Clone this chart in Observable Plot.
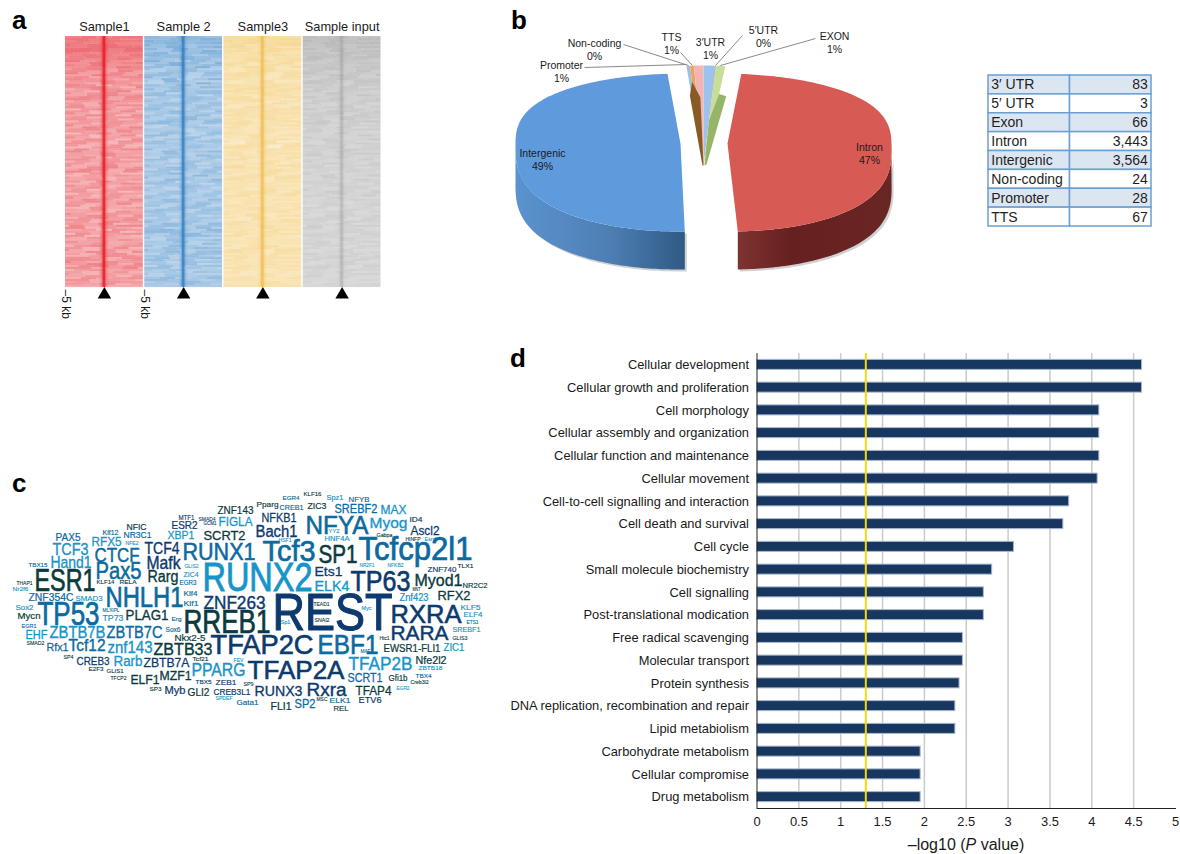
<!DOCTYPE html>
<html>
<head>
<meta charset="utf-8">
<script src="https://cdn.jsdelivr.net/npm/d3@7"></script>
<script src="https://cdn.jsdelivr.net/npm/@observablehq/plot@0.6"></script>
<style>
  html,body{margin:0;padding:0;background:#fff;}
  #page{position:relative;width:1180px;height:854px;overflow:hidden;font-family:"Liberation Sans",sans-serif;color:#1a1a1a;}
  #page>svg,#page>figure{position:absolute;margin:0;}
  .letter{position:absolute;font-weight:700;font-size:26px;line-height:1;color:#000;}
  #xtitle{position:absolute;left:866px;width:200px;top:836px;text-align:center;font-size:16px;}
</style>
</head>
<body>
<div id="page">
  <div class="letter" style="left:12px;top:7px">a</div>
  <div class="letter" style="left:511px;top:7px">b</div>
  <div class="letter" style="left:12px;top:470px">c</div>
  <div class="letter" style="left:510px;top:345px">d</div>
  <div id="xtitle">–log10 (<i>P</i> value)</div>
</div>
<script>
// ---------- panel a: estimated signal level (percent) of each 2-px row, read top to bottom ----------
const samples = ["Sample1", "Sample 2", "Sample3", "Sample input"];
const sampleHues = ["#e5323a", "#3c85c6", "#efbd4a", "#9a9a9a"];
const peakHues = ["#e81e28", "#2f7cc0", "#efb93f", "#8f8f8f"];
const peakStrength = [0.95, 0.85, 0.7, 0.3];
const peakHalfWidths = [0.55, 0.3, 0.16];
const peakLayers = [0.12, 0.35, 0.85];
const redRows = [60,66,58,64,68,62,68,70,66,60,56,62,66,52,60,54,48,58,62,46,52,58,42,50,60,54,38,48,56,44,52,60,40,50,46,56,36,52,58,44,48,54,38,50,60,42,46,52,34,48,56,44,40,54,50,36,46,58,42,48,44,54,38,50,56,40,46,60,48,36,52,44,50,38,56,46,42,52,34,48,58,44,40,50,54,36,46,42,56,48,38,52,44,50,36,58,42,48,34,54,46,40,52,44,36,50,56,42,46,38,52,54,58,48,40,54,36,46,50,42,38,52,44,48,40];
const blueRows = [58,52,62,56,64,50,58,46,54,60,44,52,64,48,42,56,50,38,46,54,60,42,48,36,52,44,56,40,48,54,34,46,52,42,38,50,56,44,36,48,52,40,46,58,42,34,50,44,38,54,48,36,46,52,40,44,56,38,48,42,34,52,46,40,54,44,36,50,42,48,58,38,46,52,34,44,50,40,36,48,54,42,38,46,50,36,44,52,40,48,34,46,56,42,38,50,54,58,48,40,52,36,46,42,50,38,54,44,36,48,42,52,38,46,34,50,44,40,48,36,46,52,38,44,42];
const yellowRows = [54,48,56,50,46,54,44,52,48,42,52,46,40,50,54,44,48,38,46,52,42,48,44,36,50,46,42,52,38,44,48,50,40,46,52,36,44,48,42,50,38,46,44,52,40,48,36,44,50,42,46,38,48,30,44,52,40,46,42,48,36,50,44,40,46,52,38,44,48,36,42,50,40,46,38,44,48,42,36,50,44,40,46,38,48,42,36,44,50,40,46,34,42,48,38,44,40,46,36,48,42,38,44,40,46,34,42,48,38,44,36,46,40,42,38,46,34,44,40,36,42,46,38,40,44];
const grayRows = [64,60,66,58,62,56,64,54,60,58,52,62,56,50,58,54,48,56,60,50,54,46,52,58,48,52,44,54,50,46,56,48,42,52,50,46,54,44,48,52,42,50,46,54,44,48,40,50,46,42,52,44,48,40,50,46,42,48,44,52,40,46,50,42,44,48,38,46,50,42,44,40,48,46,38,44,50,42,40,46,44,38,48,42,36,46,44,40,48,38,42,46,40,44,36,48,42,38,44,46,36,42,40,46,38,44,42,36,46,40,38,44,42,36,40,46,38,42,36,44,40,38,42,36,40];
const kbLabels = ["Sample1", "Sample 2"];

// ---------- panel b ----------
const regionNames = ["3′ UTR", "5′ UTR", "Exon", "Intron", "Intergenic", "Non-coding", "Promoter", "TTS"];
const regionCounts = [83, 3, 66, 3443, 3564, 24, 28, 67];
const pieLabels = ["3′UTR", "5′UTR", "EXON", "Intron", "Intergenic", "Non-coding", "Promoter", "TTS"];
const pieShares = ["1%", "0%", "1%", "47%", "49%", "0%", "1%", "1%"];

// ---------- panel c ----------
const tfNames = ["ZNF143","MTF1","SMAD4","GCM1","FIGLA","ESR2","NFIC","Klf12","NR3C1","XBP1","SCRT2","PAX5","RFX5","NFE2","TCF3","TCF4","RUNX1","CTCF","Hand1","Mafk","TBX15","GLIS2","Pax5","ZIC4","Rarg","EGR3","ESR1","KLF14","RELA","THAP1","Nr2f6","RUNX2","NHLH1","ZNF354C","SMAD3","Klf4","Klf1","ZNF263","Sox2","TP53","MLXIPL","PLAG1","TP73","Mycn","Erg","RREB1","EGR1","Sox6","EHF","ZBTB7B","ZBTB7C","Nkx2-5","ZBTB33","TFAP2C","SMAD2","Rfx1","Tcf12","znf143","SP4","CREB3","Rarb","ZBTB7A","Tcf21","FEV","E2F3","GLIS1","PPARG","TFCP2","ELF1","MZF1","TBX5","ZEB1","SP9","SP3","Myb","GLI2","CREB3L1","SPDEF","Gata1","EGR4","KLF16","Spz1","NFYB","Pparg","CREB1","ZIC3","SREBF2","MAX","NFKB1","NFYA","Myog","ID4","Bach1","Ascl2","YY2","HNF4A","Gabpa","HINFP","Esrrb","HSF1","Tcf3","SP1","Tcfcp2l1","Ets1","NR2F1","NFKB2","ZNF740","TLX1","ELK4","TP63","Myod1","NR2C2","MNT","Znf423","RFX2","KLF5","ELF4","ETS1","TEAD1","Myc","SNAI2","Sp1","REST","RXRA","RARA","SREBF1","GLIS3","Hic1","EBF1","MAF","EWSR1-FLI1","ZIC1","Nfe2l2","TFAP2B","ZBTB18","TFAP2A","SCRT1","Gfi1b","TBX4","Creb3l2","EGR2","RUNX3","Rxra","TFAP4","SP2","MSC","ELK1","ETV6","FLI1","REL"];
const tfWeights = [11,6.5,5,5,13,10.5,9,7.5,9,11.5,13,10,13,5,17,16,24,21,17,19,6,5,24,7.5,16,6.5,31,5.5,5.5,5,6,40,30,10.5,7.5,7.5,8,19,8,33,5,15,9,9.5,6,33,6,6.5,12,17,17,9,17,28,5,11.5,17,17,4.5,11.5,14,12,6,5,6,6,18,5,13,13,6,7.5,4.5,5.5,10,11,9,5,7,5.5,5.5,7,7.5,7.5,7.5,8.5,12,13,12,25,15,7.5,16,12,4.5,7,4.5,4.5,4.5,4.5,29,25,33,13,4.5,4.5,7.5,5.5,15,29,17,7.5,4.5,10,12,7.5,7.5,4.5,5,5,5,5,52,26,21,7.5,5,4.5,28,4.5,10,11,10,19,5.5,25,12,9,6,5,4.5,14,19,12.5,12,4.5,8,9,10.5,8];

// ---------- panel d ----------
const functions = ["Cellular development","Cellular growth and proliferation","Cell morphology","Cellular assembly and organization","Cellular function and maintenance","Cellular movement","Cell-to-cell signalling and interaction","Cell death and survival","Cell cycle","Small molecule biochemistry","Cell signalling","Post-translational modication","Free radical scavenging","Molecular transport","Protein synthesis","DNA replication, recombination and repair","Lipid metabiolism","Carbohydrate metabolism","Cellular compromise","Drug metabolism"];
const logP = [4.6,4.6,4.09,4.09,4.09,4.07,3.73,3.66,3.07,2.81,2.71,2.71,2.46,2.46,2.42,2.37,2.37,1.955,1.955,1.955];
const xTicks = [0,0.5,1,1.5,2,2.5,3,3.5,4,4.5,5];
const threshold = 1.3;

const page = document.getElementById("page");
function place(node, left, top) {
  node.style.left = left + "px"; node.style.top = top + "px";
  node.style.position = "absolute"; node.style.overflow = "visible";
  page.appendChild(node);
  return node;
}

// ===== a: heat maps, one facet per sample =====
const rowSets = [redRows, blueRows, yellowRows, grayRows];
// Short streaks: each row is cut into pieces whose edges step from row to row, so no vertical seam shows.
const pieceEdges = [-5, -3, -1, 1, 3, 5];
const pieceSwaps = [0, 1, 2, 3, 1];
const edgeStagger = [0, 1.1, -0.7, 0.5, -1.2, 0.8, -0.3, 1.4, -0.9, 0.2, -1.5, 0.6];
const heatRows = rowSets.flatMap((rows, s) => rows.flatMap((_, row) =>
  pieceSwaps.map((swap, k) => {
    const shift = edgeStagger[row % edgeStagger.length];
    return {
      sample: samples[s], row,
      x1: k === 0 ? -5 : pieceEdges[k] + shift,
      x2: k === pieceSwaps.length - 1 ? 5 : pieceEdges[k + 1] + shift,
      level: (rows[row ^ swap] ?? rows[row]) / 100
    };
  })));
const peakRows = samples.flatMap((sample, s) => peakHalfWidths.map((w, i) => ({sample, w, a: peakStrength[s] * peakLayers[i], hue: peakHues[s]})));
const N = redRows.length;
const heat = Plot.plot({
  width: 400, height: 335,
  marginLeft: 65, marginRight: 19.5, marginTop: 36, marginBottom: 0,
  style: {fontFamily: "Liberation Sans", fontSize: "13px", background: "transparent", color: "#1a1a1a"},
  fx: {domain: samples, paddingInner: 0.018, paddingOuter: 0, label: null, round: false},
  x: {domain: [-5, 5], axis: null},
  y: {domain: [0, N], range: [36, 287], axis: null},
  color: {domain: samples, range: sampleHues},
  opacity: {domain: [0, 1], range: [0, 1]},
  marks: [
    Plot.axisFx({anchor: "top", tickSize: 0, tickPadding: 6, label: null, fontSize: 12.8}),
    Plot.rect(heatRows, {fx: "sample", x1: "x1", x2: "x2", y1: "row", y2: d => d.row + 1.05, fill: "sample", fillOpacity: "level"}),
    ...peakRows.map(p => Plot.rect([p], {fx: "sample", x1: d => -d.w, x2: d => d.w, y1: () => 0, y2: () => N, fill: p.hue, fillOpacity: p.a})),
    Plot.dot(samples, {fx: d => d, x: () => 0, y: () => N + 3.6, symbol: "triangle", r: 5, fill: "#000", stroke: "none"}),
    Plot.text(kbLabels, {fx: d => d, x: () => -5, y: () => N + 1, text: () => "–5 kb", rotate: 90, textAnchor: "start", fontSize: 12, fill: "#1a1a1a"})
  ]
});
heat.querySelectorAll('[aria-label="rect"]').forEach(g => { g.style.filter = "blur(0.5px)"; });
place(heat, 0, 0);

// ===== b: exploded 3-D pie =====
const arcs = d3.pie().sort(null).startAngle(0).endAngle(2 * Math.PI)(regionCounts);
const RX = 166, RY_TOP = 70, RY_BOTTOM = 88, DEPTH = 38, SQUARE = 0.75;
function rim(cx, cy, t, drop = 0, ryTop = RY_TOP, ryBottom = RY_BOTTOM, skew = [0, 0]) {
  const c = Math.cos(t);
  const ry = c >= 0 ? ryTop : ryBottom;
  return {x: cx + RX * Math.sin(t) + skew[0] + skew[1] * c, y: cy - Math.sign(c) * ry * Math.pow(Math.abs(c), SQUARE) + drop};
}
function angles(a0, a1) { return [...d3.range(a0, a1, 0.02), a1]; }
function wedge(i, cx, cy, ryTop = RY_TOP, ryBottom = RY_BOTTOM, skew) {
  const a = arcs[i];
  return [{x: cx, y: cy}, ...angles(a.startAngle, a.endAngle).map(t => rim(cx, cy, t, 0, ryTop, ryBottom, skew))];
}
function wall(i, cx, cy, skew) {
  const a = arcs[i];
  const ts = angles(Math.max(a.startAngle, Math.PI / 2), Math.min(a.endAngle, 3 * Math.PI / 2));
  return [...ts.map(t => rim(cx, cy, t, 0, RY_TOP, RY_BOTTOM, skew)), ...ts.slice().reverse().map(t => rim(cx, cy, t, DEPTH, RY_TOP, RY_BOTTOM, skew))];
}
const blob = (pts, fill, extra = {}) => Plot.line(pts, {x: "x", y: "y", fill, stroke: "none", ...extra});
const lerp = (p, q, f) => ({x: p.x + (q.x - p.x) * f, y: p.y + (q.y - p.y) * f});

const INTRON = 3, INTERGENIC = 4;
const SKEW_INTRON = [-2, -6], SKEW_INTERGENIC = [1, 3];
const smallHues = {0: "#9cc2ee", 1: "#d9655c", 2: "#c6de98", 5: "#9bbfe8", 6: "#eda55a", 7: "#f2b5b3"};
const AX = 703, AY = 165, SMALL_RY = 100;
const apex = {x: AX, y: AY};
const outer = t => rim(AX, AY, t, 0, SMALL_RY, SMALL_RY);
const leftEdge = outer(arcs[6].startAngle), rightEdge = outer(arcs[2].endAngle);
const brownWall = [lerp(leftEdge, apex, 0.16), {x: leftEdge.x, y: leftEdge.y + 30}, {x: apex.x - 1, y: apex.y}, apex, lerp(apex, outer(arcs[7].startAngle + 0.03), 0.68)];
const greenWall = [lerp(rightEdge, apex, 0.28), {x: rightEdge.x + 1, y: rightEdge.y + 30}, {x: apex.x + 3, y: apex.y - 1}, {x: apex.x + 1, y: apex.y}, lerp(apex, outer(arcs[2].startAngle), 0.45)];

const leaders = [
  {x1: 584, y1: 67, x2: 686, y2: 64},
  {x1: 623, y1: 44, x2: 688, y2: 65},
  {x1: 680, y1: 52, x2: 692, y2: 65},
  {x1: 742, y1: 35, x2: 715, y2: 65},
  {x1: 815, y1: 38, x2: 720, y2: 65}
];
const labelAt = {0: [710, 48], 1: [763, 36], 2: [834, 42], 3: [869, 153], 4: [542, 159], 5: [594, 49], 6: [561, 71], 7: [671, 43]};
const pieText = pieLabels.map((name, i) => ({name, share: pieShares[i], x: labelAt[i][0], y: labelAt[i][1]}));

const pie = Plot.plot({
  width: 440, height: 300, margin: 0,
  x: {domain: [500, 940], range: [0, 440], axis: null},
  y: {domain: [0, 300], range: [0, 300], axis: null},
  style: {fontFamily: "Liberation Sans", background: "transparent"},
  marks: [
    blob(wall(INTERGENIC, 680, 143, SKEW_INTERGENIC).map(p => ({x: p.x + 2, y: p.y + 2})), "#999", {fillOpacity: 0.45}),
    blob(wall(INTRON, 727, 143, SKEW_INTRON).map(p => ({x: p.x + 2, y: p.y + 2})), "#999", {fillOpacity: 0.45}),
    blob(wall(INTERGENIC, 680, 143, SKEW_INTERGENIC), "url(#wallBlue)"),
    blob(wall(INTRON, 727, 143, SKEW_INTRON), "url(#wallRed)"),
    blob(wedge(INTERGENIC, 680, 143, RY_TOP, RY_BOTTOM, SKEW_INTERGENIC), "#5f9bdc"),
    blob(wedge(INTRON, 727, 143, RY_TOP, RY_BOTTOM, SKEW_INTRON), "#d85a54"),
    ...[0, 1, 2, 5, 6, 7].map(i => blob(wedge(i, AX, AY, SMALL_RY, SMALL_RY), smallHues[i])),
    blob(brownWall, "#8a5a24"),
    blob(greenWall, "#96b568"),
    Plot.link(leaders, {x1: "x1", y1: "y1", x2: "x2", y2: "y2", stroke: "#8a8a8a", strokeWidth: 1}),
    Plot.text(pieText, {x: "x", y: "y", text: d => d.name + "\n" + d.share, fontSize: 10.5, lineHeight: 1.2, fill: "#1a1a1a"})
  ]
});
const defs = d3.select(pie).append("defs");
function gradient(id, stops) {
  const g = defs.append("linearGradient").attr("id", id);
  stops.forEach(([o, c]) => g.append("stop").attr("offset", o).attr("stop-color", c));
}
gradient("wallBlue", [[0, "#5a93cf"], [0.55, "#4e7fb4"], [1, "#2f5a84"]]);
gradient("wallRed", [[0, "#7e3330"], [0.35, "#662020"], [1, "#6a2525"]]);
place(pie, 500, 0);

// ===== b: table =====
const tableCells = regionNames.flatMap((name, i) => [
  {row: i, col: "name", tint: i % 2 ? "#ffffff" : "#dce6f1"},
  {row: i, col: "count", tint: i % 2 ? "#ffffff" : "#dce6f1"}
]);
const tableRows = regionNames.map((name, i) => ({row: i, name, count: d3.format(",")(regionCounts[i])}));
const table = Plot.plot({
  width: 170, height: 158, margin: 0, marginLeft: 3, marginRight: 4, marginTop: 3, marginBottom: 4,
  x: {domain: ["name", "count"], padding: 0, round: false, axis: null},
  y: {domain: d3.range(8), padding: 0, round: false, axis: null},
  color: {type: "identity"},
  style: {fontFamily: "Liberation Sans", background: "transparent"},
  marks: [
    Plot.cell(tableCells, {x: "col", y: "row", fill: "tint", stroke: "#6b9fd4", strokeWidth: 1.5, inset: 0}),
    Plot.text(tableRows, {x: () => "name", y: "row", text: "name", textAnchor: "start", dx: -38, fontSize: 14, fill: "#1f1f1f"}),
    Plot.text(tableRows, {x: () => "count", y: "row", text: "count", textAnchor: "end", dx: 37, fontSize: 14, fill: "#1f1f1f"})
  ]
});
place(table, 985, 72);

// ===== c: word cloud =====
const NAVY = "#0d3a6e", GREEN = "#0b3a3e", MID = "#0b6a9f", LIGHT = "#1795c9";
const cloudLayout = {
  ZNF143:[217,253,510,GREEN],MTF1:[178,194,517,NAVY],SMAD4:[198,215,518.5,NAVY],GCM1:[203,216,523,NAVY],FIGLA:[218,252,521,LIGHT],ESR2:[171,197,525,NAVY],NFIC:[126,146,527,GREEN],Klf12:[102,118,532,MID],NR3C1:[123,151,535,MID],XBP1:[167,194,535,LIGHT],SCRT2:[203,245,535,GREEN],PAX5:[55,80,537,MID],RFX5:[91,121,541,LIGHT],NFE2:[125,138,543,LIGHT],TCF3:[52,88,549,LIGHT],TCF4:[144,179,548,NAVY],RUNX1:[182,255,552,MID],CTCF:[94,139,555,MID],Hand1:[50,91,562,LIGHT],Mafk:[146,180,562,NAVY],TBX15:[28,47,565,MID],GLIS2:[184,198,566,LIGHT],Pax5:[95,141,571,MID],ZIC4:[183,198,574,LIGHT],Rarg:[147,178,576,GREEN],EGR3:[179,196,582,MID],ESR1:[34,95,581,GREEN],KLF14:[96,114,582,GREEN],RELA:[119,136,582,GREEN],THAP1:[16,32,583,GREEN],Nr2f6:[12,28,589,LIGHT],RUNX2:[202,312,578,LIGHT],NHLH1:[105,183,597,MID],ZNF354C:[28,73,597,MID],SMAD3:[75,102,598,LIGHT],Klf4:[183,197,593,MID],Klf1:[183,198,603,MID],ZNF263:[203,265,602,NAVY],Sox2:[15,33,607,LIGHT],TP53:[37,99,614,MID],MLXIPL:[102,119,610,MID],PLAG1:[125,168,615,GREEN],TP73:[102,123,618,LIGHT],Mycn:[17,40,615,GREEN],Erg:[171,181,619,MID],RREB1:[183,270,622,GREEN],EGR1:[21,36,626,MID],Sox6:[165,180,629,MID],EHF:[25,47,635,LIGHT],ZBTB7B:[49,105,632,LIGHT],ZBTB7C:[106,162,632,MID],"Nkx2-5":[174,205,638,GREEN],ZBTB33:[153,212,649,GREEN],TFAP2C:[210,313,645,NAVY],SMAD2:[26,44,643,GREEN],Rfx1:[46,68,647,MID],Tcf12:[68,105,645,MID],znf143:[107,152,647,LIGHT],SP4:[63,73,657,GREEN],CREB3:[76,109,661,NAVY],Rarb:[113,142,661,LIGHT],ZBTB7A:[143,189,663,NAVY],Tcf21:[192,208,659,GREEN],FEV:[233,243,660,LIGHT],E2F3:[88,103,669,GREEN],GLIS1:[106,123,671,GREEN],PPARG:[191,245,670,LIGHT],TFCP2:[110,126,678,GREEN],ELF1:[130,159,679,GREEN],MZF1:[159,191,675,GREEN],TBX5:[195,211,682,NAVY],ZEB1:[215,236,682,NAVY],SP9:[243,253,684,GREEN],SP3:[149,161,689,GREEN],Myb:[164,185,690,NAVY],GLI2:[187,209,692,GREEN],CREB3L1:[213,250,692,NAVY],SPDEF:[215,232,698,LIGHT],Gata1:[236,258,702,MID],EGR4:[282,299,498,MID],KLF16:[303,321,494,GREEN],Spz1:[326,343,497,LIGHT],NFYB:[348,369,499,MID],Pparg:[256,278,504,GREEN],CREB1:[279,303,507,MID],ZIC3:[307,326,506,GREEN],SREBF2:[334,377,509,MID],MAX:[380,406,509,LIGHT],NFKB1:[261,296,518,NAVY],NFYA:[305,368,525,MID],Myog:[369,407,523,LIGHT],ID4:[409,422,519,GREEN],Bach1:[255,297,531,NAVY],Ascl2:[410,439,531,NAVY],YY2:[328,339,531,LIGHT],HNF4A:[324,349,538,LIGHT],Gabpa:[376,392,535,GREEN],HINFP:[405,420,539,GREEN],Esrrb:[424,437,539,LIGHT],HSF1:[278,291,540,LIGHT],Tcf3:[262,315,551,MID],SP1:[318,357,554,GREEN],Tcfcp2l1:[358,472,549,MID],Ets1:[314,342,571,NAVY],NR2F1:[359,374,565,LIGHT],NFKB2:[387,403,565,LIGHT],ZNF740:[427,456,569,NAVY],TLX1:[457,473,566,GREEN],ELK4:[314,349,586,LIGHT],TP63:[350,410,581,NAVY],Myod1:[414,462,580,GREEN],NR2C2:[462,487,585,GREEN],MNT:[412,420,589,GREEN],Znf423:[399,428,597,LIGHT],RFX2:[437,470,596,GREEN],KLF5:[460,480,607,LIGHT],ELF4:[463,482,614,LIGHT],ETS1:[466,478,622,MID],TEAD1:[313,329,604,GREEN],Myc:[361,371,608,LIGHT],SNAI2:[314,329,620,GREEN],Sp1:[280,290,622,LIGHT],REST:[272,392,613,NAVY],RXRA:[390,461,614,NAVY],RARA:[390,448,633,NAVY],SREBF1:[452,480,629,LIGHT],GLIS3:[452,467,638,GREEN],Hic1:[379,389,638,GREEN],EBF1:[317,378,645,MID],MAF:[360,370,651,MID],"EWSR1-FLI1":[383,440,648,GREEN],ZIC1:[443,464,647,LIGHT],Nfe2l2:[415,446,660,GREEN],TFAP2B:[348,412,663,LIGHT],ZBTB18:[418,442,668,LIGHT],TFAP2A:[247,344,670,NAVY],SCRT1:[347,382,678,MID],Gfi1b:[388,407,678,GREEN],TBX4:[415,431,676,MID],Creb3l2:[410,428,682,GREEN],EGR2:[396,409,688,LIGHT],RUNX3:[254,302,691,NAVY],Rxra:[306,346,689,NAVY],TFAP4:[355,391,690,GREEN],SP2:[294,315,704,MID],MSC:[316,327,699,GREEN],ELK1:[329,350,700,MID],ETV6:[358,381,700,NAVY],FLI1:[270,291,706,GREEN],REL:[333,348,708,GREEN]
};
const cloudRows = tfNames.map((name, i) => {
  const [x1, x2, y, shade] = cloudLayout[name];
  return {name, size: tfWeights[i], x: (x1 + x2) / 2, y, shade, span: x2 - x1};
});
const cloud = Plot.plot({
  width: 500, height: 250, margin: 0,
  x: {domain: [0, 500], range: [0, 500], axis: null},
  y: {domain: [475, 725], range: [0, 250], axis: null},
  color: {type: "identity"},
  style: {fontFamily: "Liberation Sans", background: "transparent"},
  marks: [Plot.text(cloudRows, {x: "x", y: "y", text: "name", fontSize: "size", fill: "shade"})]
});
d3.select(cloud).selectAll("text").each(function() {
  const row = cloudRows.find(r => r.name === this.textContent);
  if (!row) return;
  this.setAttribute("textLength", row.span);
  this.setAttribute("lengthAdjust", "spacingAndGlyphs");
  this.style.stroke = row.shade;
  this.style.strokeWidth = Math.min(1.1, row.size * 0.022) + "px";
});
place(cloud, 0, 475);

// ===== d: bar chart =====
const barRows = functions.map((name, i) => ({name, value: logP[i]}));
const bars = Plot.plot({
  width: 680, height: 514,
  marginLeft: 256.5, marginRight: 5, marginTop: 13, marginBottom: 46,
  x: {domain: [0, 5], axis: null},
  y: {domain: functions, paddingInner: 0.56, paddingOuter: 0.28, round: false, axis: null},
  style: {fontFamily: "Liberation Sans", fontSize: "12.9px", background: "transparent", color: "#1a1a1a"},
  marks: [
    Plot.ruleX(xTicks.slice(1, -1), {stroke: "#cbcbcb", strokeWidth: 1.5}),
    Plot.barX(barRows, {x: "value", y: "name", fill: "#173660", stroke: "#a8b7cc", strokeWidth: 1}),
    Plot.ruleX([threshold], {stroke: "#f4d90f", strokeWidth: 2}),
    Plot.axisY({anchor: "left", tickSize: 0, tickPadding: 8, label: null, fontSize: 12.9}),
    Plot.axisX({anchor: "bottom", ticks: xTicks, tickFormat: d => String(d), tickSize: 0, tickPadding: 8, label: null, fontSize: 12.9}),
    Plot.ruleX([0], {stroke: "#222", strokeWidth: 1}),
    Plot.frame({anchor: "bottom", stroke: "#222"})
  ]
});
place(bars, 500, 340);
</script>
</body>
</html>
